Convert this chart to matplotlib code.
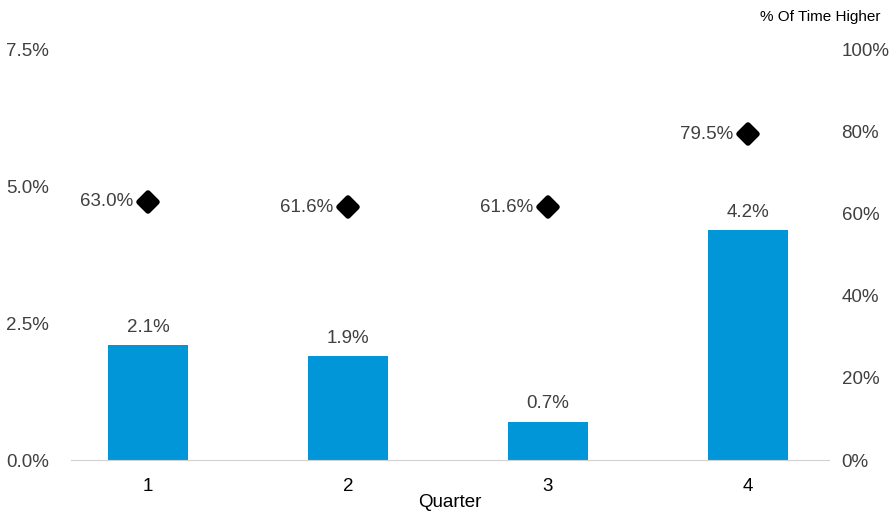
import matplotlib.pyplot as plt
from matplotlib.markers import MarkerStyle
from matplotlib.ticker import FuncFormatter

plt.rcParams['font.family'] = ['Liberation Sans', 'DejaVu Sans']

quarters = ['1', '2', '3', '4']
avg_return = [2.1, 1.9, 0.7, 4.2]
pct_higher = [63.0, 61.6, 61.6, 79.5]

bar_color = '#0096D8'
txt = '#404040'

fig = plt.figure(figsize=(8.92, 5.11), dpi=100)
ax = fig.add_axes([0.0796, 0.0998, 0.8498, 0.8024])
ax2 = ax.twinx()

x = range(len(quarters))
ax.bar(x, avg_return, width=0.4, color=bar_color, zorder=2)
for xi, v in zip(x, avg_return):
    ax.text(xi, v + 0.17, f'{v:.1f}%', ha='center', va='bottom', fontsize=13.5, color=txt)

ax.set_xlim(-0.385, 3.405)
ax.set_ylim(0, 7.5)
ax.set_yticks([0, 2.5, 5.0, 7.5])
ax.yaxis.set_major_formatter(FuncFormatter(lambda v, p: f'{v:.1f}%'))
ax.set_xticks(list(x))
ax.set_xticklabels(quarters)
ax.set_xlabel('Quarter', fontsize=13.5, color='black', labelpad=-1)

ax2.set_ylim(0, 100)
ax2.set_yticks([0, 20, 40, 60, 80, 100])
ax2.yaxis.set_major_formatter(FuncFormatter(lambda v, p: f'{v:.0f}%'))
ax2.plot(list(x), pct_higher, linestyle='none',
         marker=MarkerStyle('D', joinstyle='round'), markersize=9.5,
         color='black', markeredgewidth=4, markeredgecolor='black', zorder=3)
for xi, v in zip(x, pct_higher):
    ax2.text(xi - 0.075, v, f'{v:.1f}%', ha='right', va='center', fontsize=13.5, color=txt)

for a in (ax, ax2):
    for s in a.spines.values():
        s.set_visible(False)
    a.tick_params(length=0, labelsize=13.5, colors=txt)
ax.spines['bottom'].set_visible(True)
ax.spines['bottom'].set_color('#d0d0d0')
ax.tick_params(axis='x', pad=13, colors='black')
ax.tick_params(axis='y', pad=16)
ax2.tick_params(axis='y', pad=9)

fig.text(0.987, 0.967, '% Of Time Higher', ha='right', va='center', fontsize=11, color='black')

fig.savefig('out.png', dpi=100)
